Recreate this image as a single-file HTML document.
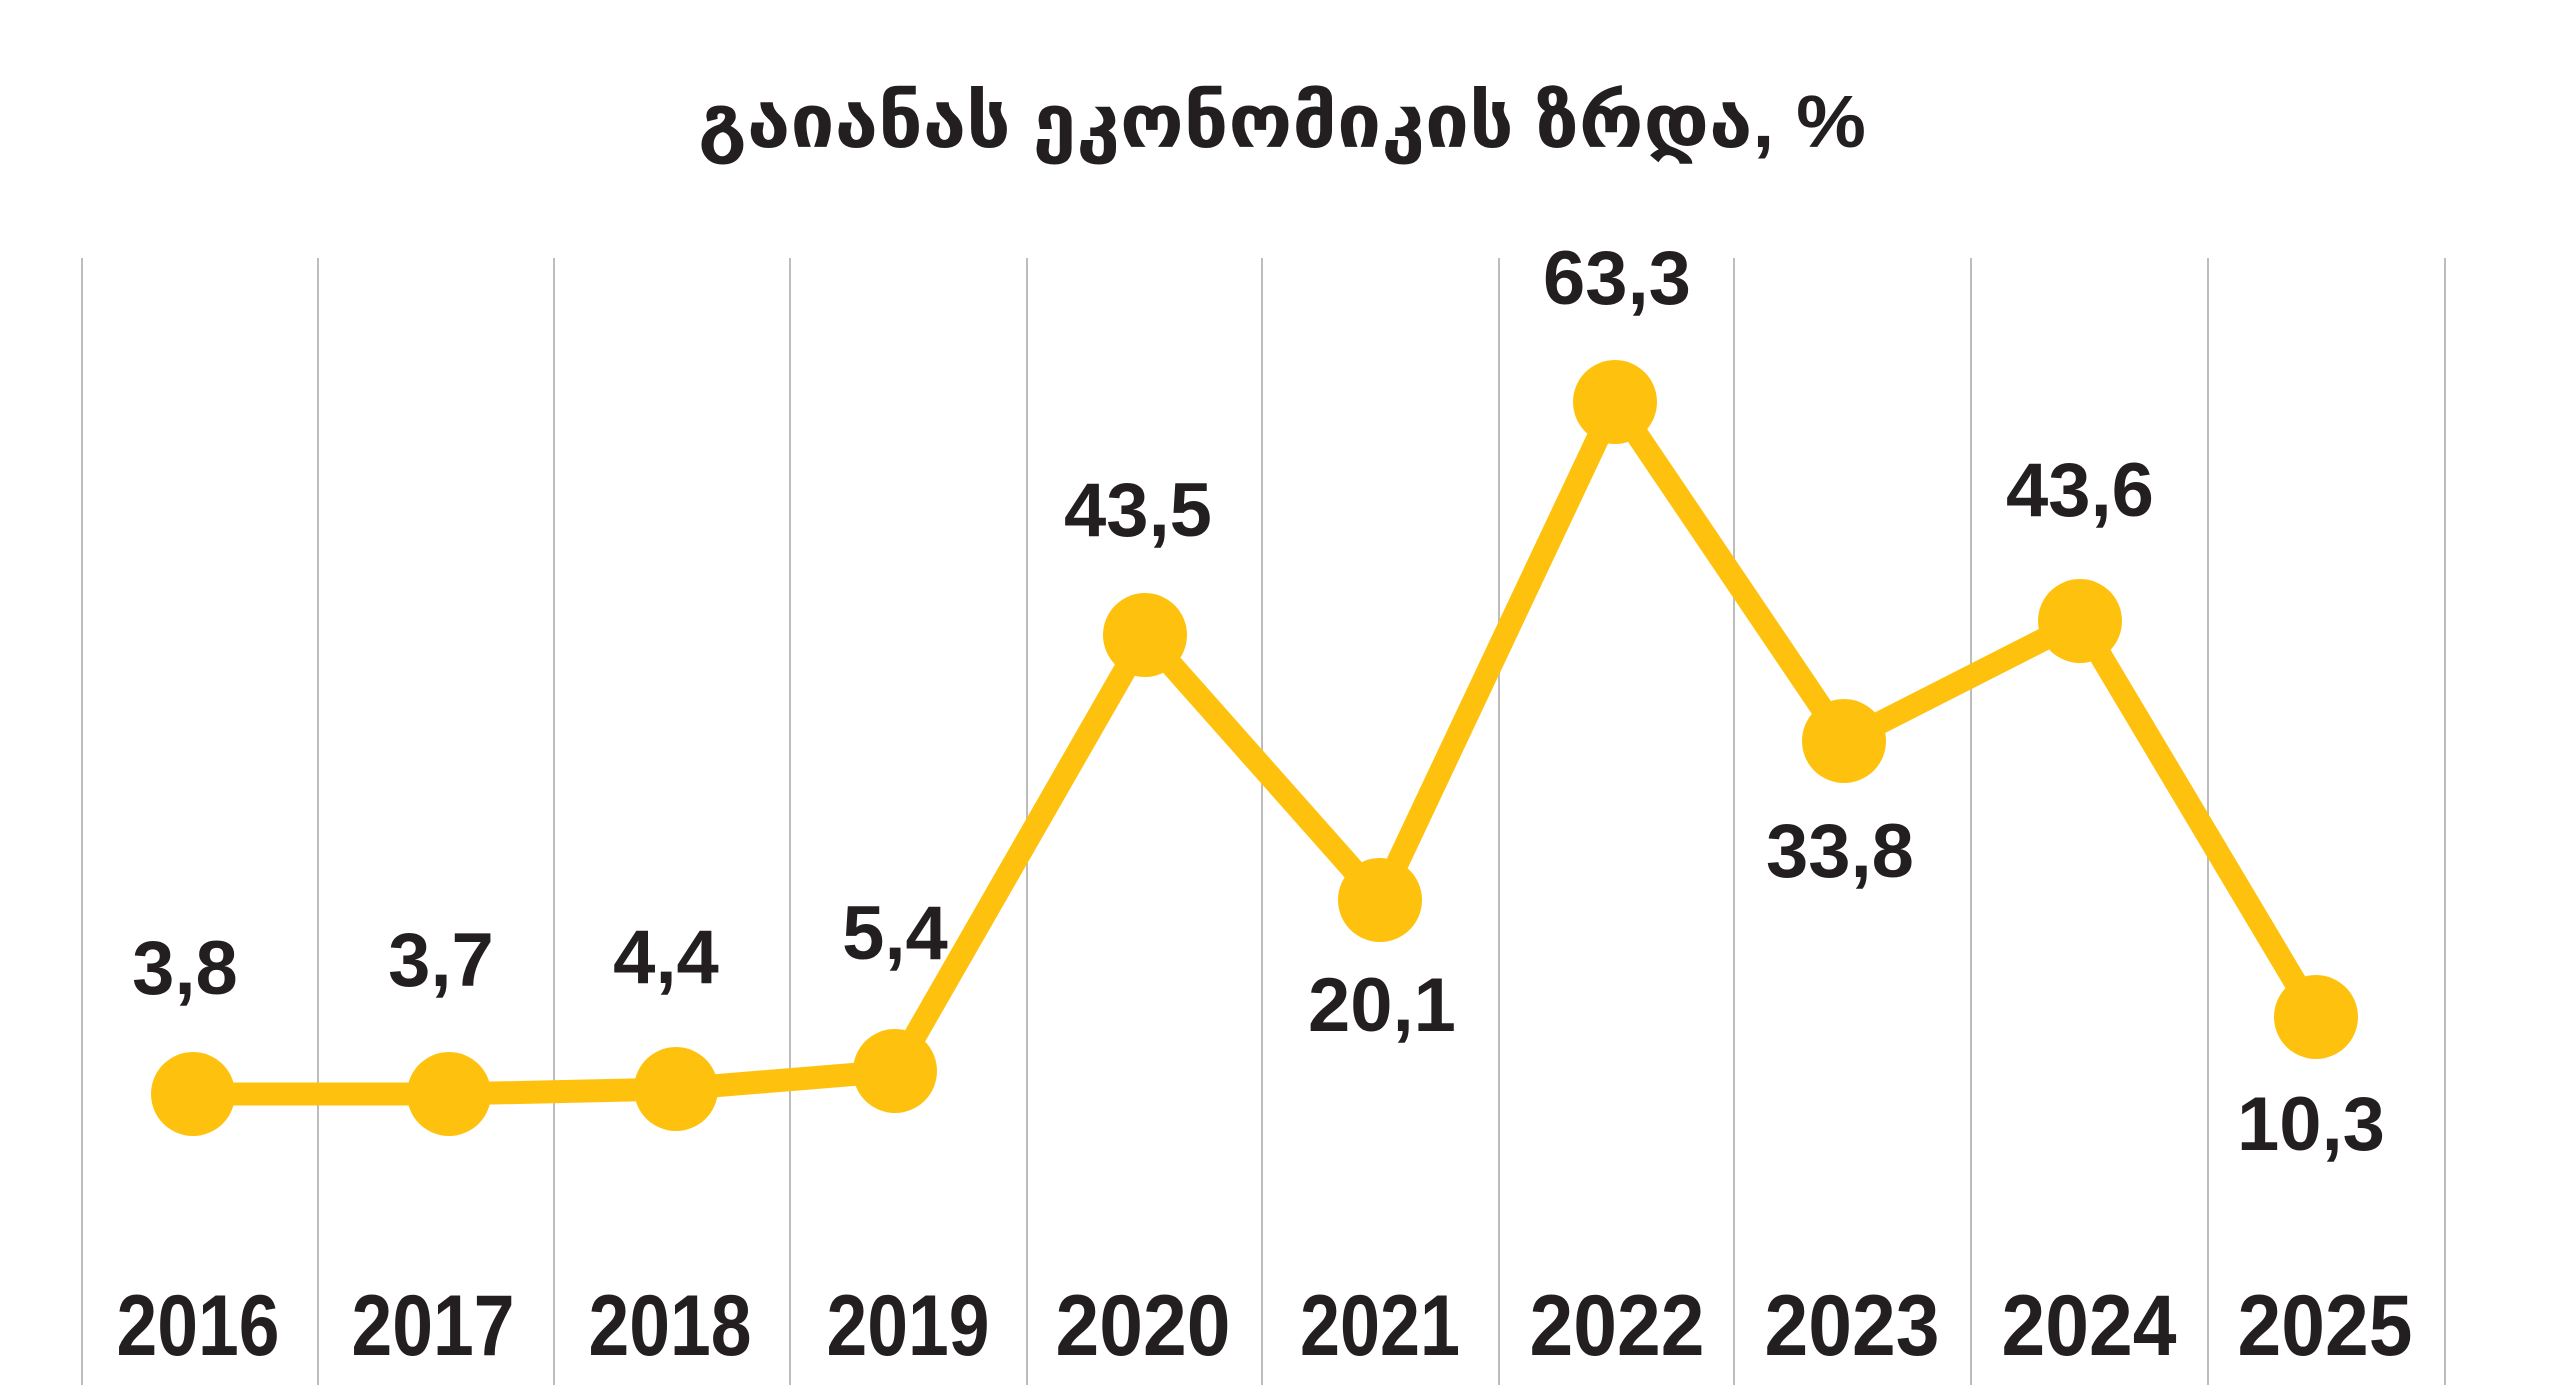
<!DOCTYPE html>
<html><head><meta charset="utf-8"><style>
html,body{margin:0;padding:0;background:#fff;}
svg{display:block;}
text{font-family:"Liberation Sans","DejaVu Sans",sans-serif;fill:#231f20;}
</style></head><body>
<svg width="2560" height="1385" viewBox="0 0 2560 1385" xmlns="http://www.w3.org/2000/svg">
<rect width="2560" height="1385" fill="#fff"/>
<text x="1282" y="147" font-size="74" font-weight="bold" text-anchor="middle" textLength="1168" lengthAdjust="spacingAndGlyphs" font-family="'DejaVu Sans',sans-serif">გაიანას ეკონომიკის ზრდა, %</text>
<g stroke="#bdbdbd" stroke-width="2">
<line x1="82" y1="258" x2="82" y2="1385"/><line x1="318" y1="258" x2="318" y2="1385"/>
<line x1="554" y1="258" x2="554" y2="1385"/><line x1="790" y1="258" x2="790" y2="1385"/>
<line x1="1027" y1="258" x2="1027" y2="1385"/><line x1="1262" y1="258" x2="1262" y2="1385"/>
<line x1="1499" y1="258" x2="1499" y2="1385"/><line x1="1734" y1="258" x2="1734" y2="1385"/>
<line x1="1971" y1="258" x2="1971" y2="1385"/><line x1="2208" y1="258" x2="2208" y2="1385"/>
<line x1="2445" y1="258" x2="2445" y2="1385"/>
</g>
<polyline fill="none" stroke="#fec20e" stroke-width="23" stroke-linejoin="round" points="193,1094 449,1094 676,1089 895,1071 1145,635 1380,900 1615,402 1844,741 2080,621 2316,1017"/>
<g fill="#fec20e">
<circle cx="193" cy="1094" r="42"/><circle cx="449" cy="1094" r="42"/><circle cx="676" cy="1089" r="42"/>
<circle cx="895" cy="1071" r="42"/><circle cx="1145" cy="635" r="42"/><circle cx="1380" cy="900" r="42"/>
<circle cx="1615" cy="402" r="42"/><circle cx="1844" cy="741" r="42"/><circle cx="2080" cy="621" r="42"/>
<circle cx="2316" cy="1017" r="42"/>
</g>
<g font-size="76" font-weight="bold" text-anchor="middle">
<text x="185" y="994">3,8</text><text x="441" y="986">3,7</text><text x="666" y="983">4,4</text>
<text x="895" y="959">5,4</text><text x="1138" y="536">43,5</text><text x="1382" y="1031">20,1</text>
<text x="1617" y="304">63,3</text><text x="1840" y="877">33,8</text><text x="2080" y="516">43,6</text>
<text x="2311" y="1150">10,3</text>
</g>
<g font-size="86" font-weight="bold" text-anchor="middle">
<text x="198" y="1355" textLength="163" lengthAdjust="spacingAndGlyphs">2016</text>
<text x="433" y="1355" textLength="163" lengthAdjust="spacingAndGlyphs">2017</text>
<text x="670" y="1355" textLength="163" lengthAdjust="spacingAndGlyphs">2018</text>
<text x="908" y="1355" textLength="163" lengthAdjust="spacingAndGlyphs">2019</text>
<text x="1143" y="1355" textLength="175" lengthAdjust="spacingAndGlyphs">2020</text>
<text x="1380" y="1355" textLength="160" lengthAdjust="spacingAndGlyphs">2021</text>
<text x="1617" y="1355" textLength="175" lengthAdjust="spacingAndGlyphs">2022</text>
<text x="1852" y="1355" textLength="175" lengthAdjust="spacingAndGlyphs">2023</text>
<text x="2089" y="1355" textLength="175" lengthAdjust="spacingAndGlyphs">2024</text>
<text x="2325" y="1355" textLength="175" lengthAdjust="spacingAndGlyphs">2025</text>
</g>
</svg>
</body></html>
